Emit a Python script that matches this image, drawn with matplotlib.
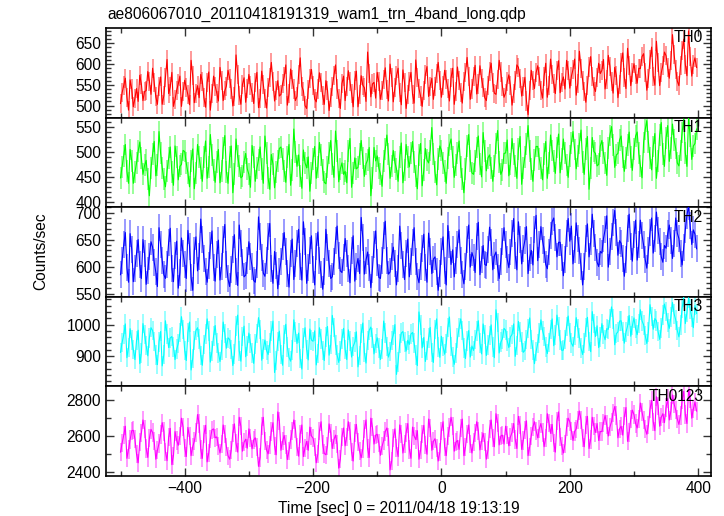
import numpy as np
import matplotlib
matplotlib.use('Agg')
import matplotlib.pyplot as plt
from matplotlib.ticker import MultipleLocator

plt.rcParams['font.family'] = ['Liberation Sans', 'DejaVu Sans']

# time bins (sec from 2011/04/18 19:13:19), 2.5 s steps
t_start = -500
t_bin = 2.5

th0 = [505, 531, 548, 566, 520, 489, 562, 540, 497, 518, 541, 510, 573, 552, 512, 534, 536, 582, 559, 527,
       590, 556, 521, 503, 547, 569, 503, 524, 568, 611, 529, 545, 580, 498, 515, 537, 552, 571, 498, 533,
       561, 543, 526, 502, 609, 572, 507, 530, 548, 519, 575, 558, 519, 496, 556, 581, 489, 528, 571, 547,
       530, 511, 592, 561, 512, 536, 547, 585, 566, 540, 499, 522, 622, 575, 524, 503, 551, 567, 508, 542,
       575, 549, 531, 505, 556, 580, 495, 518, 583, 551, 518, 494, 544, 568, 604, 559, 511, 536, 560, 523,
       527, 553, 569, 598, 501, 528, 588, 562, 540, 512, 522, 575, 615, 547, 535, 500, 493, 539, 566, 587,
       548, 516, 509, 540, 579, 555, 524, 503, 560, 537, 488, 519, 547, 573, 598, 540, 517, 493, 553, 571,
       512, 545, 584, 558, 530, 497, 561, 583, 497, 526, 572, 549, 543, 510, 629, 577, 521, 552, 556, 518,
       580, 557, 515, 536, 563, 591, 538, 511, 600, 568, 509, 543, 572, 590, 531, 502, 586, 555, 493, 527,
       559, 580, 527, 506, 610, 568, 541, 523, 498, 536, 575, 594, 522, 547, 566, 515, 547, 578, 604, 561,
       520, 548, 585, 562, 541, 511, 567, 590, 503, 534, 593, 560, 532, 506, 558, 579, 616, 569, 515, 540,
       571, 597, 528, 552, 596, 565, 544, 519, 512, 548, 583, 602, 555, 530, 527, 563, 609, 581, 546, 520,
       530, 557, 574, 548, 501, 529, 560, 598, 592, 566, 523, 545, 568, 511, 478, 536, 585, 560, 541, 579,
       596, 570, 537, 518, 571, 602, 520, 549, 612, 575, 553, 529, 584, 608, 531, 556, 569, 540, 609, 585,
       542, 571, 587, 612, 525, 554, 631, 590, 561, 533, 508, 549, 593, 618, 570, 545, 534, 568, 602, 577,
       585, 611, 540, 563, 621, 594, 557, 530, 592, 573, 519, 550, 604, 627, 567, 541, 638, 596, 548, 579,
       601, 574, 554, 590, 589, 618, 625, 580, 537, 566, 612, 641, 571, 549, 655, 603, 548, 579, 597, 629,
       620, 591, 566, 608, 671, 624, 588, 559, 548, 597, 632, 660, 599, 572, 680, 618, 571, 600, 615, 592]

th1 = [448, 470, 492, 515, 461, 437, 505, 482, 437, 459, 478, 501, 520, 488, 455, 473, 483, 446, 412, 467,
       496, 521, 452, 474, 541, 497, 468, 445, 430, 462, 487, 510, 459, 433, 512, 489, 444, 471, 475, 503,
       501, 477, 458, 430, 482, 506, 426, 458, 515, 489, 467, 441, 490, 522, 447, 470, 535, 494, 463, 439,
       479, 505, 438, 462, 508, 533, 460, 437, 489, 512, 418, 455, 526, 491, 472, 448, 451, 480, 497, 466,
       455, 429, 513, 490, 441, 468, 484, 510, 466, 437, 532, 498, 447, 425, 495, 476, 428, 459, 481, 507,
       510, 486, 462, 439, 489, 515, 433, 464, 546, 500, 471, 494, 452, 427, 504, 478, 468, 490, 421, 458,
       486, 511, 447, 470, 519, 493, 464, 439, 436, 470, 497, 523, 475, 449, 542, 501, 440, 466, 478, 455,
       461, 438, 502, 527, 429, 457, 488, 466, 469, 495, 523, 487, 451, 476, 484, 509, 412, 448, 509, 482,
       492, 468, 456, 431, 481, 506, 534, 495, 447, 472, 503, 479, 466, 441, 490, 518, 438, 464, 515, 489,
       470, 497, 521, 480, 452, 426, 493, 517, 432, 463, 507, 484, 478, 503, 549, 496, 459, 434, 486, 512,
       503, 478, 461, 437, 488, 514, 526, 489, 449, 473, 497, 522, 470, 445, 418, 466, 512, 535, 482, 458,
       455, 481, 509, 532, 476, 450, 539, 501, 462, 488, 494, 468, 441, 472, 517, 543, 480, 455, 463, 497,
       498, 524, 452, 476, 527, 496, 471, 447, 506, 531, 435, 468, 490, 516, 553, 502, 466, 441, 484, 511,
       511, 486, 468, 444, 495, 521, 447, 478, 534, 503, 482, 457, 509, 536, 458, 485, 526, 497, 473, 449,
       492, 518, 541, 505, 466, 491, 517, 544, 480, 455, 506, 531, 425, 468, 529, 501, 497, 472, 475, 512,
       523, 497, 478, 453, 508, 533, 551, 514, 469, 494, 497, 524, 532, 489, 461, 487, 514, 540, 489, 463,
       506, 532, 540, 497, 472, 448, 519, 545, 563, 520, 488, 464, 511, 537, 447, 482, 534, 559, 496, 471,
       528, 553, 481, 508, 556, 524, 507, 478, 472, 503, 539, 566, 498, 471, 568, 531, 485, 512, 517, 546]

th2 = [585, 612, 640, 663, 598, 571, 661, 632, 572, 597, 625, 650, 603, 578, 650, 624, 567, 593, 618, 646,
       636, 608, 590, 563, 672, 640, 611, 585, 578, 604, 645, 671, 597, 572, 620, 647, 560, 589, 653, 625,
       604, 578, 667, 638, 580, 556, 629, 655, 592, 618, 688, 650, 615, 590, 571, 602, 639, 666, 598, 573,
       622, 649, 575, 601, 650, 678, 603, 577, 563, 594, 631, 659, 590, 565, 677, 642, 608, 581, 584, 612,
       646, 619, 600, 574, 571, 603, 692, 655, 617, 588, 582, 611, 655, 680, 596, 569, 628, 602, 559, 590,
       610, 637, 663, 628, 588, 562, 625, 651, 576, 605, 642, 669, 601, 575, 683, 647, 569, 598, 630, 657,
       594, 566, 637, 664, 612, 585, 558, 590, 669, 635, 605, 578, 581, 609, 648, 675, 620, 592, 589, 617,
       652, 624, 596, 570, 630, 657, 573, 600, 615, 587, 691, 653, 586, 612, 627, 598, 561, 595, 640, 666,
       607, 580, 578, 611, 658, 684, 612, 586, 590, 619, 636, 605, 566, 597, 675, 639, 603, 576, 624, 651,
       581, 610, 645, 672, 609, 582, 570, 601, 633, 660, 598, 571, 662, 628, 587, 614, 618, 590, 556, 588,
       628, 655, 593, 566, 676, 641, 604, 631, 581, 612, 641, 668, 612, 585, 568, 600, 650, 677, 599, 626,
       616, 589, 655, 682, 585, 613, 639, 604, 602, 631, 673, 645, 594, 620, 627, 599, 578, 610, 646, 672,
       640, 614, 598, 627, 662, 689, 621, 594, 683, 650, 605, 633, 648, 674, 587, 616, 630, 603, 669, 695,
       611, 640, 674, 648, 632, 604, 596, 627, 657, 683, 690, 654, 618, 645, 645, 616, 583, 614, 662, 689,
       647, 675, 605, 632, 681, 652, 629, 600, 566, 600, 652, 679, 618, 646, 697, 661, 636, 608, 600, 628,
       625, 652, 668, 694, 599, 628, 655, 681, 704, 663, 621, 648, 643, 615, 582, 613, 671, 697, 638, 610,
       659, 686, 612, 640, 686, 658, 640, 613, 597, 629, 663, 690, 625, 652, 701, 667, 646, 618, 608, 639,
       634, 661, 677, 649, 615, 643, 690, 662, 652, 624, 603, 636, 668, 695, 712, 676, 641, 668, 660, 633]

th3 = [912, 943, 968, 1002, 895, 927, 987, 951, 921, 889, 950, 982, 876, 910, 1003, 968, 933, 901, 958, 990,
       981, 947, 904, 873, 945, 978, 869, 905, 1012, 970, 927, 958, 962, 929, 889, 922, 940, 975, 1025, 984,
       918, 886, 975, 1008, 856, 893, 949, 981, 990, 955, 902, 871, 937, 970, 1018, 979, 881, 916, 964, 997,
       942, 910, 883, 919, 1008, 972, 925, 958, 953, 921, 870, 906, 995, 1030, 917, 884, 962, 995, 898, 932,
       973, 940, 910, 877, 939, 972, 1022, 985, 887, 923, 951, 918, 905, 941, 979, 1011, 848, 886, 946, 979,
       905, 871, 968, 1001, 929, 896, 884, 920, 1015, 977, 940, 973, 893, 859, 957, 990, 921, 888, 986, 951,
       947, 980, 872, 908, 990, 955, 918, 886, 961, 994, 903, 937, 1029, 991, 936, 903, 880, 917, 955, 988,
       921, 889, 983, 948, 897, 931, 944, 977, 866, 902, 972, 1005, 911, 878, 949, 982, 992, 958, 907, 940,
       958, 925, 889, 923, 1011, 974, 930, 897, 915, 949, 967, 1000, 842, 882, 940, 973, 978, 945, 916, 950,
       937, 970, 975, 941, 904, 870, 1040, 998, 926, 959, 883, 918, 958, 991, 912, 880, 985, 1018, 929, 896,
       963, 930, 906, 940, 991, 1024, 931, 897, 874, 910, 957, 990, 1018, 981, 925, 892, 948, 981, 897, 932,
       918, 952, 979, 1012, 941, 907, 1002, 968, 902, 936, 966, 999, 928, 895, 1047, 1006, 910, 944, 955, 988,
       982, 948, 927, 961, 969, 1002, 899, 934, 1010, 976, 945, 912, 918, 952, 988, 1021, 953, 920, 876, 914,
       940, 974, 1015, 981, 962, 928, 908, 943, 985, 1018, 933, 967, 1030, 994, 951, 918, 919, 953, 994, 1027,
       975, 941, 931, 965, 1022, 988, 958, 925, 905, 941, 990, 1023, 947, 914, 1041, 1003, 962, 996, 927, 960,
       1003, 969, 952, 987, 985, 1019, 1056, 1018, 936, 971, 977, 1011, 1012, 978, 941, 976, 995, 1029, 963, 997,
       1021, 987, 968, 1003, 1047, 1012, 999, 965, 940, 977, 1063, 1025, 985, 1019, 1012, 978, 953, 989, 1030, 1065,
       1042, 1007, 988, 1024, 1070, 1034, 1015, 981, 961, 998, 1052, 1087, 1003, 1038, 1085, 1049, 1024, 990, 1060, 1035]

th0123 = [2510, 2560, 2605, 2655, 2475, 2525, 2580, 2630, 2632, 2582, 2498, 2450, 2565, 2615, 2690, 2640, 2530, 2480, 2587, 2637,
          2620, 2570, 2470, 2520, 2558, 2608, 2675, 2625, 2512, 2462, 2593, 2643, 2440, 2490, 2625, 2575, 2548, 2598, 2700, 2650,
          2535, 2485, 2648, 2598, 2490, 2540, 2570, 2620, 2720, 2670, 2525, 2475, 2610, 2660, 2455, 2505, 2585, 2635, 2640, 2590,
          2595, 2545, 2505, 2555, 2662, 2612, 2540, 2490, 2470, 2520, 2618, 2668, 2560, 2510, 2705, 2655, 2515, 2565, 2582, 2532,
          2640, 2590, 2528, 2578, 2590, 2540, 2430, 2480, 2655, 2705, 2572, 2522, 2500, 2550, 2625, 2675, 2545, 2495, 2735, 2685,
          2520, 2570, 2603, 2553, 2468, 2518, 2580, 2630, 2690, 2640, 2537, 2487, 2612, 2662, 2485, 2535, 2570, 2520, 2650, 2600,
          2588, 2538, 2450, 2500, 2630, 2680, 2552, 2502, 2495, 2545, 2668, 2618, 2530, 2580, 2605, 2555, 2420, 2470, 2595, 2645,
          2545, 2595, 2680, 2630, 2510, 2460, 2615, 2665, 2565, 2515, 2478, 2528, 2640, 2690, 2530, 2480, 2700, 2650, 2555, 2605,
          2610, 2560, 2492, 2542, 2575, 2625, 2645, 2595, 2410, 2460, 2590, 2640, 2535, 2485, 2662, 2612, 2505, 2555, 2620, 2670,
          2525, 2475, 2650, 2600, 2580, 2630, 2470, 2520, 2610, 2660, 2548, 2498, 2695, 2645, 2520, 2570, 2585, 2535, 2460, 2510,
          2630, 2680, 2540, 2490, 2598, 2648, 2705, 2655, 2515, 2565, 2575, 2525, 2645, 2695, 2490, 2540, 2612, 2662, 2555, 2505,
          2568, 2618, 2680, 2630, 2522, 2572, 2615, 2565, 2470, 2520, 2640, 2690, 2590, 2540, 2725, 2675, 2550, 2600, 2605, 2555,
          2655, 2605, 2545, 2595, 2620, 2670, 2580, 2530, 2710, 2660, 2525, 2575, 2635, 2685, 2490, 2540, 2602, 2652, 2680, 2630,
          2590, 2640, 2670, 2620, 2540, 2590, 2725, 2675, 2615, 2665, 2560, 2510, 2685, 2735, 2595, 2545, 2505, 2555, 2650, 2700,
          2680, 2630, 2575, 2625, 2640, 2690, 2740, 2690, 2590, 2540, 2660, 2710, 2530, 2580, 2705, 2655, 2620, 2670, 2575, 2625,
          2625, 2675, 2715, 2665, 2600, 2650, 2680, 2730, 2765, 2715, 2590, 2640, 2655, 2605, 2710, 2760, 2570, 2620, 2695, 2745,
          2720, 2670, 2645, 2695, 2785, 2735, 2690, 2640, 2610, 2660, 2750, 2800, 2680, 2630, 2820, 2770, 2655, 2705, 2725, 2675,
          2760, 2810, 2690, 2740, 2830, 2780, 2745, 2695, 2665, 2715, 2800, 2850, 2720, 2670, 2860, 2810, 2700, 2750, 2790, 2740]

series = [th0, th1, th2, th3, th0123]
names = ['TH0', 'TH1', 'TH2', 'TH3', 'TH0123']
errors = [23, 22, 25, 31, 51]
colors = ['#ff0000', '#00ff00', '#0000ff', '#00ffff', '#ff00ff']
ylims = [(471, 687), (389, 569), (544, 710), (804, 1088), (2376, 2878)]
majors = [50, 50, 50, 100, 200]
minors = [10, 10, 10, 20, 100]

fig = plt.figure(figsize=(7.24, 5.16), dpi=100)
left, width = 106 / 724, 605 / 724
top, h = 1 - 28 / 516, 89.6 / 516

for i, (y, name) in enumerate(zip(series, names)):
    t = t_start + t_bin * np.arange(len(y))
    ax = fig.add_axes([left, top - (i + 1) * h, width, h])
    ax.errorbar(t, y, yerr=errors[i], fmt='none', ecolor=colors[i],
                elinewidth=1.4, alpha=0.4, capsize=0, zorder=2)
    ax.plot(t, y, '-', color=colors[i], lw=0.8, zorder=3)
    ax.set_xlim(-522.6, 420)
    ax.set_ylim(*ylims[i])
    ax.xaxis.set_major_locator(MultipleLocator(200))
    ax.xaxis.set_minor_locator(MultipleLocator(100))
    ax.yaxis.set_major_locator(MultipleLocator(majors[i]))
    ax.yaxis.set_minor_locator(MultipleLocator(minors[i]))
    ax.tick_params(which='both', direction='in', top=True, right=True,
                   labelsize=11.2, width=1.0, color='#333333')
    ax.tick_params(which='major', length=6)
    ax.tick_params(which='minor', length=3.5)
    for sp in ax.spines.values():
        sp.set_linewidth(1.2)
    if i < 4:
        ax.tick_params(labelbottom=False)
    ax.text(0.987, 0.89, name, transform=ax.transAxes, ha='right',
            va='center', fontsize=11.2)

fig.text(107 / 724, 1 - 14 / 516, 'ae806067010_20110418191319_wam1_trn_4band_long.qdp',
         ha='left', va='center', fontsize=11.2)
fig.text(41 / 724, 1 - 251 / 516, 'Counts/sec', rotation=90,
         ha='center', va='center', fontsize=11.2)
fig.text(399 / 724, 1 - 508 / 516, 'Time [sec] 0 = 2011/04/18 19:13:19',
         ha='center', va='center', fontsize=11.2)

fig.savefig('out.png', dpi=100)
